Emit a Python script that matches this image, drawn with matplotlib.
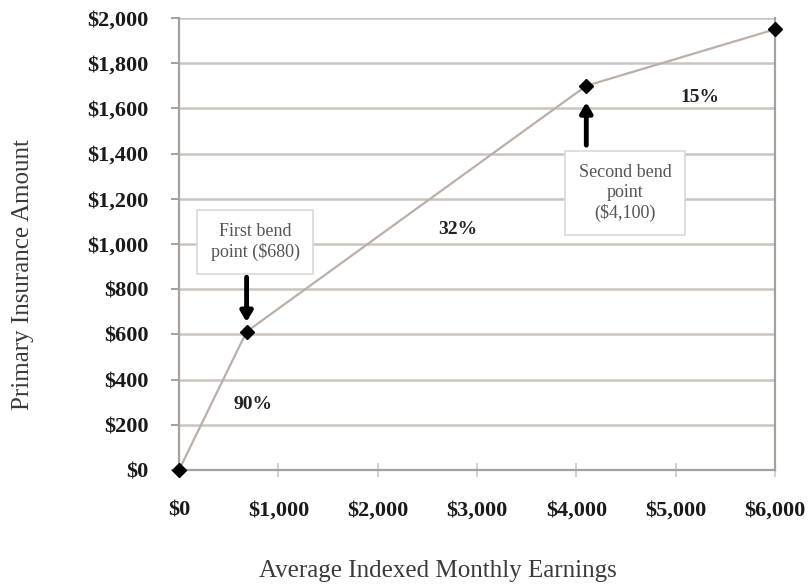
import matplotlib
matplotlib.use("Agg")
import matplotlib.pyplot as plt
from matplotlib.ticker import FuncFormatter

# benefit formula: AIME vs PIA
aime = [0, 680, 4100, 6000]
pia = [0, 612, 1700, 1950]

rate_labels = ["90%", "32%", "15%"]
rate_pos = [(745, 288), (2810, 1062), (5245, 1650)]

bend_texts = ["First bend\npoint ($680)", "Second bend\npoint\n($4,100)"]
bend_box_pos = [(765, 1009), (4490, 1226)]

plt.rcParams['font.family'] = ['Liberation Serif', 'DejaVu Serif']

fig = plt.figure(figsize=(8.09, 5.88), dpi=100)
ax = fig.add_axes([0.2213, 0.2007, 0.7367, 0.7687])

grid_col = "#cbc5c2"
spine_col = "#a99f9b"
ax.set_xlim(0, 6000)
ax.set_ylim(0, 2000)
ax.set_yticks(range(0, 2001, 200))
ax.set_xticks(range(0, 6001, 1000))
ax.yaxis.grid(True, color=grid_col, linewidth=1.8)
ax.set_axisbelow(True)

ax.plot(aime, pia, color="#bcaea8", linewidth=1.6, marker="D", markersize=7,
        markerfacecolor="black", markeredgecolor="black", clip_on=False, zorder=3)

money = FuncFormatter(lambda v, p: "${:,.0f}".format(v))
ax.xaxis.set_major_formatter(money)
ax.yaxis.set_major_formatter(money)

ax.spines["top"].set_visible(False)
for s in ["left", "bottom", "right"]:
    ax.spines[s].set_color(spine_col)
    ax.spines[s].set_linewidth(1.6)

ax.tick_params(axis="y", direction="out", length=6, color=spine_col, width=1.4,
               labelsize=16, pad=16, labelcolor="#1a1a1a")
ax.tick_params(axis="x", direction="inout", length=10, color="#d6d0cd", width=1.4,
               labelsize=16, pad=17, labelcolor="#1a1a1a")
for lab in ax.get_xticklabels() + ax.get_yticklabels():
    lab.set_fontweight("bold")

fig.text(23 / 809, 1 - 275 / 588, "Primary Insurance Amount", rotation=90,
         fontsize=18, ha="center", va="center", color="#3a3a3a")
fig.text(438 / 809, 1 - 571 / 588, "Average Indexed Monthly Earnings",
         fontsize=18, ha="center", va="center", color="#3a3a3a")

for txt, (x, y) in zip(rate_labels, rate_pos):
    ax.text(x, y, txt, fontsize=14, fontweight="bold", ha="center", va="center",
            color="#222222")

for txt, (x, y) in zip(bend_texts, bend_box_pos):
    ax.text(x, y, txt, fontsize=13, ha="center", va="center", color="#555555",
            linespacing=1.2,
            bbox=dict(boxstyle="square,pad=0.75", facecolor="white", edgecolor="#dcd8d6",
                      linewidth=1.2))

# arrows pointing at the two bend points
ax.annotate("", xy=(aime[1], 642), xytext=(aime[1], 865),
            arrowprops=dict(arrowstyle="-|>,head_width=0.35,head_length=0.6",
                            color="black", linewidth=3.5))
ax.annotate("", xy=(aime[2], 1640), xytext=(aime[2], 1425),
            arrowprops=dict(arrowstyle="-|>,head_width=0.35,head_length=0.6",
                            color="black", linewidth=3.5))

fig.savefig("out.png", dpi=100)
